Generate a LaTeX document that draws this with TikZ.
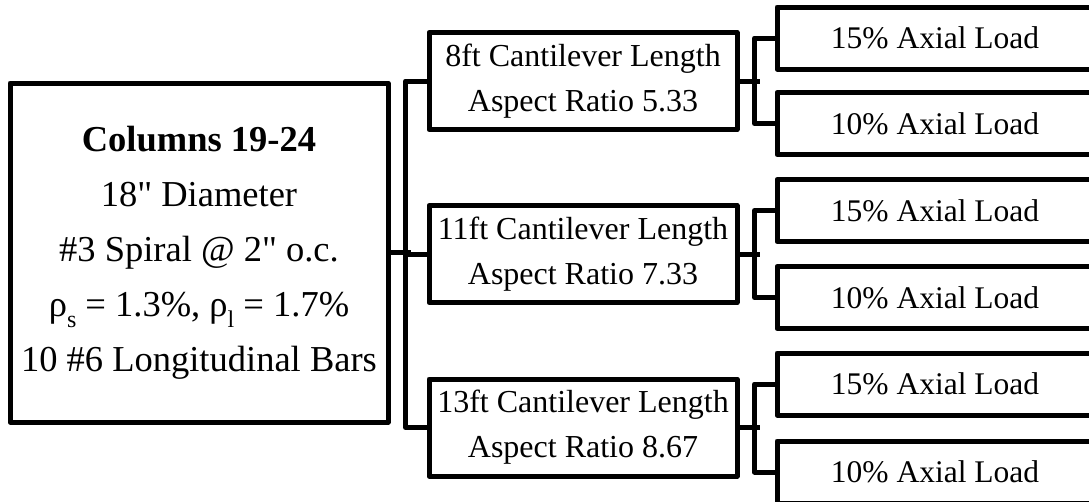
\documentclass[tikz,border=0pt]{standalone}
\usepackage{fontspec}
\setmainfont{Liberation Serif}
\usepackage{tikz}
\usetikzlibrary{positioning}
\tikzset{colbox/.style = {draw, line width = 5pt, inner sep = 0, minimum width = 378pt, minimum height = 339pt, align = center, font = \fontsize{36.5}{55}\selectfont}}
\tikzset{lenbox/.style = {draw, line width = 5pt, inner sep = 0, minimum width = 308pt, minimum height = 97pt, align = center, font = \fontsize{32}{45}\selectfont}}
\tikzset{loadbox/.style = {draw, line width = 5pt, inner sep = 0, minimum width = 316pt, minimum height = 62pt, font = \fontsize{31.5}{37}\selectfont}}
\tikzset{link/.style = {line width = 5pt}}
\newcommand{\inchmark}{\textquotedbl}
\newcommand{\lowsub}[1]{\raisebox{-0.3em}{\fontsize{24}{24}\selectfont #1}}

\begin{document}
\begin{tikzpicture}[x = 1pt, y = -1pt, line join = round]
    \clip (0, 0) rectangle (1089, 501);

    \node [colbox] (col) at (199, 252.5) {\textbf{Columns 19-24}\\18\inchmark{} Diameter\\\#3 Spiral @ 2\inchmark{} o.c.\\ρ\lowsub{s} = 1.3\%, ρ\lowsub{l} = 1.7\%\\10 \#6 Longitudinal Bars};

    \node [lenbox] (len8) at (583, 81) {8ft Cantilever Length\\Aspect Ratio 5.33};
    \node [lenbox] (len11) at (583, 254) {11ft Cantilever Length\\Aspect Ratio 7.33};
    \node [lenbox] (len13) at (583, 427.5) {13ft Cantilever Length\\Aspect Ratio 8.67};

    \node [loadbox] (ax8a) at (935, 38) {15\% Axial Load};
    \node [loadbox] (ax8b) at (935, 123.5) {10\% Axial Load};
    \node [loadbox] (ax11a) at (935, 210.5) {15\% Axial Load};
    \node [loadbox] (ax11b) at (935, 297.5) {10\% Axial Load};
    \node [loadbox] (ax13a) at (935, 384) {15\% Axial Load};
    \node [loadbox] (ax13b) at (935, 472) {10\% Axial Load};

    \draw [link] (col.east) -- ++(20, 0);
    \draw [link] (len8.west) -- ++(-21, 0) |- (len13.west);
    \draw [link] (len11.west) -- ++(-21, 0);

    \foreach \len/\hi/\lo in {len8/ax8a/ax8b, len11/ax11a/ax11b, len13/ax13a/ax13b} {
      \draw [link] (\len.east) -- ++(20, 0);
      \draw [link] (\hi.west) -- ++(-20, 0) |- (\lo.west);
    }
  \end{tikzpicture}
\end{document}
